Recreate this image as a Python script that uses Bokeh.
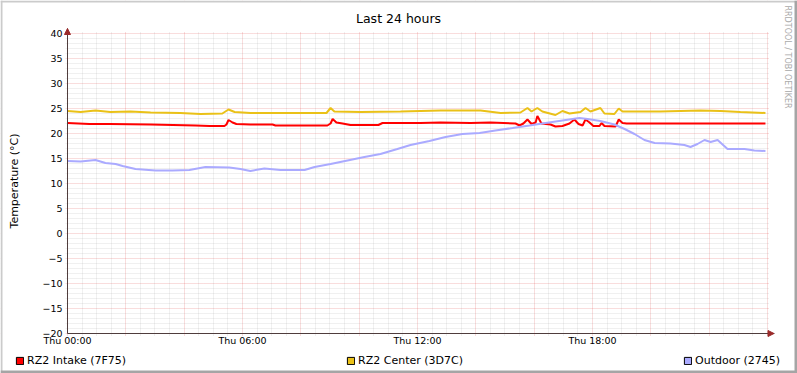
import math
from bokeh.plotting import figure
from bokeh.models import (Range1d, FixedTicker, Legend, LegendItem, Label, Arrow,
                          NormalHead, BoxAnnotation)
from bokeh.embed import file_html
from bokeh.resources import INLINE

# ---------------- data ----------------
TITLE = "Last 24 hours"
Y_LABEL = "Temperature (°C)"
WATERMARK = "RRDTOOL / TOBI OETIKER"

series_names = ["RZ2 Intake (7F75)", "RZ2 Center (3D7C)", "Outdoor (2745)"]
series_colors = ["#FF0000", "#EAC117", "#AAAAFF"]

x_label_hours = [0, 6, 12, 18]
x_tick_labels = ["Thu 00:00", "Thu 06:00", "Thu 12:00", "Thu 18:00"]
y_tick_values = [-20, -15, -10, -5, 0, 5, 10, 15, 20, 25, 30, 35, 40]

hours_intake = [0.0, 0.75, 1.44, 2.85, 4.39, 4.87, 5.38, 5.45, 5.52, 5.66, 5.79, 6.27,
                7.03, 7.13, 8.91, 9.02, 9.09, 9.22, 9.43, 9.70, 10.66, 10.80, 12.10,
                12.79, 13.82, 14.50, 15.36, 15.50, 15.63, 15.77, 15.91, 16.05, 16.11,
                16.25, 16.56, 16.73, 16.97, 17.21, 17.38, 17.52, 17.66, 17.76, 17.90,
                18.03, 18.24, 18.31, 18.41, 18.79, 18.90, 19.03, 19.17, 21.00, 23.93]
temp_intake = [22.1, 21.9, 21.9, 21.8, 21.6, 21.5, 21.5, 21.8, 22.7, 22.2, 21.9, 21.8,
               21.8, 21.6, 21.6, 22.0, 22.9, 22.2, 22.0, 21.7, 21.7, 22.1, 22.1,
               22.2, 22.1, 22.2, 22.0, 21.6, 22.0, 22.8, 21.9, 22.2, 23.5,
               22.0, 21.8, 21.4, 21.5, 22.0, 22.8, 21.9, 21.6, 22.8, 22.2,
               21.5, 21.5, 22.1, 21.5, 21.4, 22.8, 22.1, 22.0, 22.0, 22.0]

hours_center = [0.0, 0.45, 0.96, 1.47, 2.16, 2.85, 3.87, 4.56, 5.31, 5.52, 5.73, 6.27,
                7.65, 8.88, 9.02, 9.15, 10.05, 11.42, 12.79, 14.16, 14.85, 15.53, 15.77,
                15.91, 16.11, 16.28, 16.73, 16.97, 17.21, 17.59, 17.76, 17.93, 18.27,
                18.41, 18.75, 18.90, 19.03, 20.33, 21.70, 22.39, 23.07, 23.93]
temp_center = [24.5, 24.3, 24.6, 24.3, 24.4, 24.2, 24.1, 23.9, 24.0, 24.8, 24.3, 24.1,
               24.1, 24.1, 25.1, 24.4, 24.3, 24.4, 24.6, 24.6, 24.1, 24.2, 25.1,
               24.4, 25.1, 24.4, 23.7, 24.5, 24.0, 24.3, 25.1, 24.4, 25.1,
               24.0, 23.9, 25.0, 24.4, 24.4, 24.6, 24.5, 24.3, 24.1]

hours_outdoor = [0.0, 0.45, 0.96, 1.30, 1.65, 1.89, 2.33, 3.02, 3.60, 4.18, 4.73, 5.55,
                 5.93, 6.27, 6.75, 7.30, 8.13, 8.47, 9.02, 9.60, 10.18, 10.73, 11.31,
                 11.76, 12.41, 12.96, 13.54, 14.13, 14.67, 15.26, 15.84, 16.39, 16.97,
                 17.55, 17.83, 18.27, 18.75, 19.10, 19.44, 19.78, 20.13, 20.67, 21.15,
                 21.36, 21.60, 21.84, 22.05, 22.29, 22.63, 23.21, 23.55, 23.93]
temp_outdoor = [14.5, 14.4, 14.7, 14.1, 13.9, 13.5, 12.9, 12.6, 12.6, 12.7, 13.3, 13.2,
                12.9, 12.5, 13.0, 12.7, 12.7, 13.3, 13.9, 14.6, 15.3, 15.9, 16.9,
                17.7, 18.5, 19.3, 19.9, 20.1, 20.6, 21.1, 21.6, 22.1, 22.6,
                23.1, 22.9, 22.5, 21.8, 20.9, 19.9, 18.7, 18.1, 18.0, 17.7,
                17.3, 17.9, 18.7, 18.3, 18.7, 16.9, 16.9, 16.6, 16.5]

# ---------------- style / layout ----------------
FONT = "DejaVu Sans"
AXIS_COLOR = "#4F3D3D"
ARROW_COLOR = "#9A2A2A"
MGRID = "#DE3030"
GRID = "#8F8F8F"
SHADE_A = "#CBCBCB"
SHADE_B = "#A5A5A5"

X_MIN, X_MAX = 0, 24          # plotted time span (hours)
Y_MIN, Y_MAX = -20, 40        # plotted value span
XR = (-2.2971, 25.0286)       # canvas extent in hours (5 px per 1/6 h ... 29.17 px/h)
YR = (-28.0, 46.6)            # canvas extent in degrees (5 px per degree)

x_major = list(range(0, 25, 2))
x_minor = [h / 2 for h in range(0, 49) if h % 4 != 0]
y_minor = [v for v in range(-20, 41) if v % 5 != 0]

# the whole canvas is the frame; axes are pinned inside it
p = figure(width=797, height=373,
           x_range=Range1d(*XR), y_range=Range1d(*YR),
           output_backend="svg", toolbar_location=None,
           min_border=0, min_border_left=0, min_border_right=0,
           min_border_top=0, min_border_bottom=0)
p.title.visible = False
p.outline_line_color = None
p.background_fill_color = "white"
p.border_fill_color = "white"

# grids
for g in (p.xgrid[0], p.ygrid[0]):
    g.grid_line_color = MGRID
    g.grid_line_alpha = 0.32
    g.grid_line_dash = "1 1"
    g.minor_grid_line_color = GRID
    g.minor_grid_line_alpha = 0.26
    g.minor_grid_line_dash = "1 1"

# white masks that trim the grid to the plot area
mask_kw = dict(fill_color="white", fill_alpha=1.0, line_color=None, level="underlay")
p.add_layout(BoxAnnotation(left=-3, right=X_MIN - 0.07, bottom=-30, top=50, **mask_kw))
p.add_layout(BoxAnnotation(left=X_MAX + 0.05, right=26, bottom=-30, top=50, **mask_kw))
p.add_layout(BoxAnnotation(left=-3, right=26, bottom=Y_MAX + 0.3, top=50, **mask_kw))
p.add_layout(BoxAnnotation(left=-3, right=26, bottom=-30, top=Y_MIN - 0.5, **mask_kw))

# axes
xa, ya = p.xaxis[0], p.yaxis[0]
xa.fixed_location = Y_MIN
ya.fixed_location = X_MIN
xa.bounds = (X_MIN, 24.223)
ya.bounds = (Y_MIN, 41.0)
xa.ticker = FixedTicker(ticks=x_major, minor_ticks=x_minor)
overrides = {h: "" for h in x_major}
for h, lab in zip(x_label_hours, x_tick_labels):
    overrides[h] = lab
xa.major_label_overrides = overrides
ya.ticker = FixedTicker(ticks=y_tick_values, minor_ticks=y_minor)

for ax in (xa, ya):
    ax.axis_line_color = AXIS_COLOR
    ax.axis_line_width = 1
    ax.major_tick_in = 0
    ax.major_tick_out = 0
    ax.minor_tick_in = 0
    ax.minor_tick_out = 0
    ax.major_tick_line_color = None
    ax.minor_tick_line_color = None
    ax.major_label_text_font = FONT
    ax.major_label_text_font_size = "9.5px"
    ax.major_label_text_color = "black"

xa.major_label_standoff = 1
ya.major_label_standoff = 5
ya.axis_label = Y_LABEL
ya.axis_label_text_font = FONT
ya.axis_label_text_font_size = "11px"
ya.axis_label_text_font_style = "normal"
ya.axis_label_text_color = "black"
ya.axis_label_standoff = 18

# data lines
series_hours = [hours_intake, hours_center, hours_outdoor]
series_temps = [temp_intake, temp_center, temp_outdoor]
for hrs, tmp, col in zip(series_hours, series_temps, series_colors):
    p.line(hrs, tmp, line_color=col, line_width=2)

# axis arrow heads
p.add_layout(Arrow(end=NormalHead(size=6, fill_color=ARROW_COLOR, line_color=ARROW_COLOR),
                   x_start=X_MIN, y_start=Y_MAX, x_end=X_MIN, y_end=41.0,
                   line_color=AXIS_COLOR, line_width=1))
p.add_layout(Arrow(end=NormalHead(size=6, fill_color=ARROW_COLOR, line_color=ARROW_COLOR),
                   x_start=X_MAX, y_start=Y_MIN, x_end=24.223, y_end=Y_MIN,
                   line_color=AXIS_COLOR, line_width=1))

# legend swatches (one hidden NaN quad per series, only used for the legend)
nan = float("nan")
swatches = [p.quad(left=[nan], right=[nan], top=[nan], bottom=[nan], fill_color=c,
                   line_color="black", line_width=1) for c in series_colors]
legend = Legend(items=[LegendItem(label=n, renderers=[r]) for n, r in zip(series_names, swatches)],
                orientation="horizontal", location=(15, 6), spacing=220,
                padding=0, margin=0, glyph_width=9, glyph_height=9, label_height=9,
                label_standoff=3, border_line_color=None, background_fill_alpha=0,
                label_text_font=FONT, label_text_font_size="11px",
                label_text_color="black", label_text_baseline="middle")
p.add_layout(legend, "center")

# title and watermark
p.add_layout(Label(x=11.349, y=43.0, text=TITLE, text_align="center",
                   text_baseline="alphabetic", text_font=FONT, text_font_size="12.5px",
                   text_color="black"))
p.add_layout(Label(x=24.70, y=45.6, text=WATERMARK, angle=-math.pi / 2, text_align="left",
                   text_baseline="middle", text_font=FONT, text_font_size="8px",
                   text_color="#AAAAAA"))

# shaded image frame (light top/left, darker bottom/right)
edge_kw = dict(line_color=None, fill_alpha=1.0, level="overlay")
p.add_layout(BoxAnnotation(left=XR[0], right=-2.2286, bottom=YR[0], top=YR[1],
                           fill_color=SHADE_A, **edge_kw))
p.add_layout(BoxAnnotation(left=XR[0], right=XR[1], bottom=46.2, top=YR[1],
                           fill_color=SHADE_A, **edge_kw))
p.add_layout(BoxAnnotation(left=24.926, right=XR[1], bottom=YR[0], top=YR[1],
                           fill_color=SHADE_B, **edge_kw))
p.add_layout(BoxAnnotation(left=XR[0], right=XR[1], bottom=YR[0], top=-27.4,
                           fill_color=SHADE_B, **edge_kw))

open("out.html", "w").write(file_html(p, INLINE))
